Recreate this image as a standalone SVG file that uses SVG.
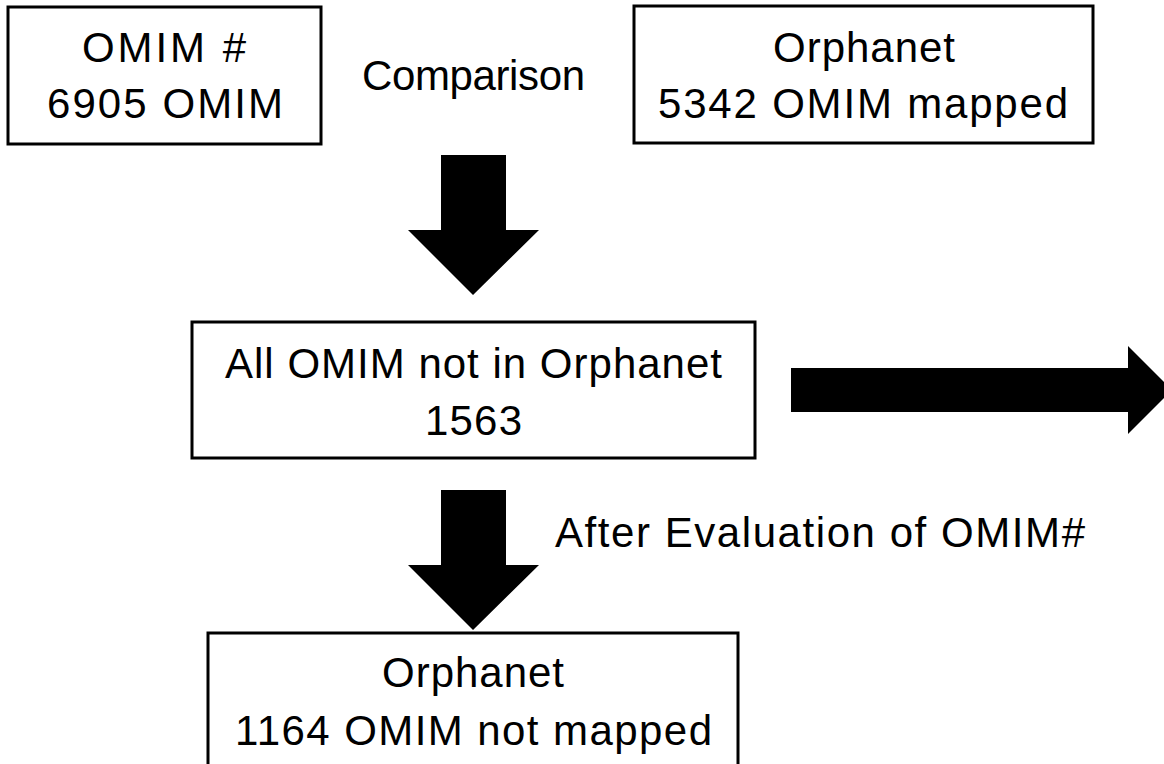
<svg xmlns="http://www.w3.org/2000/svg" width="1164" height="764" viewBox="0 0 1164 764">
<style>
.box{fill:#fff;stroke:#000;stroke-width:3}
.t{font-family:"Liberation Sans",Arial,sans-serif;font-size:42px;fill:#000;text-anchor:middle}
.l{font-family:"Liberation Sans",Arial,sans-serif;font-size:42px;fill:#000}
.arr{fill:#000}
</style>
<rect width="1164" height="764" fill="#fff"/>
<g id="connectors">
<polygon class="arr" points="441,155 506,155 506,230 539,230 473,295 408,230 441,230"/>
<polygon class="arr" points="441,490 506,490 506,565 539,565 473,630 408,565 441,565"/>
<polygon class="arr" points="791,368 1128,368 1128,346 1172,390 1128,434 1128,412 791,412"/>
<text class="t" x="473.5" y="90" textLength="223">Comparison</text>
<text class="l" x="555" y="547" textLength="530">After Evaluation of OMIM#</text>
</g>
<g id="omim">
<rect class="box" x="8" y="7" width="313" height="137"/>
<text class="t" x="164" y="62" textLength="164">OMIM #</text>
<text class="t" x="165" y="118" textLength="236">6905 OMIM</text>
</g>
<g id="orphanet-mapped">
<rect class="box" x="634" y="6" width="459" height="137"/>
<text class="t" x="864" y="62" textLength="182">Orphanet</text>
<text class="t" x="863" y="118" textLength="410">5342 OMIM mapped</text>
</g>
<g id="not-in-orphanet">
<rect class="box" x="192" y="322" width="563" height="136"/>
<text class="t" x="473.5" y="378" textLength="497">All OMIM not in Orphanet</text>
<text class="t" x="473.5" y="435" textLength="97">1563</text>
</g>
<g id="orphanet-not-mapped">
<rect class="box" x="208" y="633" width="530" height="160"/>
<text class="t" x="473" y="687" textLength="182">Orphanet</text>
<text class="t" x="473.5" y="745" textLength="477">1164 OMIM not mapped</text>
</g>
</svg>
